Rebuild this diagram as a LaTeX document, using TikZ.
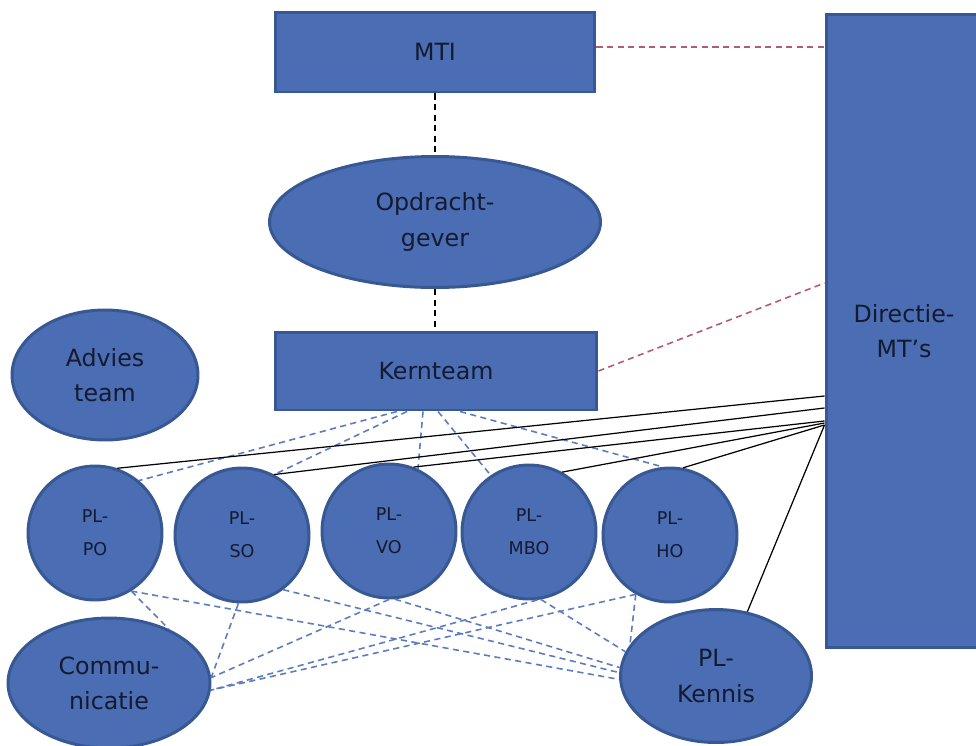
\documentclass[tikz,border=0pt]{standalone}
\usepackage{fontspec}
\setmainfont{DejaVu Sans}
\usetikzlibrary{shapes.geometric}
\definecolor{vlak}{HTML}{4A6DB3}
\definecolor{rand}{HTML}{385894}
\definecolor{tekst}{HTML}{141A30}
\definecolor{stip}{HTML}{5B7DBE}
\definecolor{rood}{HTML}{B25A78}
\tikzset{
  blok/.style={draw=rand, fill=vlak, line width=1.7pt, text=tekst, inner sep=0pt,
    align=center, font=\fontsize{13.5}{20}\selectfont},
  box/.style={blok, rectangle},
  oval/.style={blok, ellipse},
  pl/.style={blok, ellipse, minimum width=2.68cm, minimum height=2.68cm,
    font=\fontsize{10}{19}\selectfont},
  lijn/.style={black, line width=0.7pt},
  stippel/.style={black, line width=0.9pt, dash pattern=on 3.5pt off 2.5pt},
  link/.style={stip, line width=0.9pt, dash pattern=on 3.5pt off 2.5pt},
  mtlink/.style={rood, line width=0.9pt, dash pattern=on 3.5pt off 2.5pt}
}
\begin{document}
\begin{tikzpicture}[x=0.02cm, y=-0.02cm]
    \clip (0,0) rectangle (976,745);
    \fill[white] (0,0) rectangle (976,745);

    % Bovenste lagen
    \node[box, minimum width=6.4cm, minimum height=1.6cm] (mti) at (435,52) {MTI};
    \node[oval, minimum width=6.62cm, minimum height=2.62cm] (opd) at (435,222) {Opdracht-\\gever};
    \node[box, minimum width=6.44cm, minimum height=1.56cm] (kern) at (436,371) {Kernteam};
    \node[oval, minimum width=3.72cm, minimum height=2.6cm] (advies) at (105,375) {Advies\\team};

    % Directie
    \node[box, minimum width=3.12cm, minimum height=12.68cm] (dir) at (904,331) {Directie-\\MT's};

    % Projectleiders
    \node[pl] (po)  at (95,533)  {PL-\\PO};
    \node[pl] (so)  at (242,535) {PL-\\SO};
    \node[pl] (vo)  at (389,531) {PL-\\VO};
    \node[pl] (mbo) at (529,532) {PL-\\MBO};
    \node[pl] (ho)  at (670,535) {PL-\\HO};

    % Onderste laag
    \node[oval, minimum width=4.04cm, minimum height=2.6cm] (comm) at (109,683) {Commu-\\nicatie};
    \node[oval, minimum width=3.82cm, minimum height=2.66cm] (kennis) at (716,676) {PL-\\Kennis};

    % Lijnen naar boven
    \draw[stippel] (mti.south) -- (opd.north);
    \draw[stippel] (opd.south) -- (opd.south |- kern.north);
    \draw[mtlink] ([yshift=0.1cm]mti.east) -- ([yshift=0.1cm]mti.east -| dir.west);
    \draw[mtlink] (kern.east) -- ([yshift=0.96cm]dir.west);

    % Kernteam naar projectleiders
    \draw[link] ([xshift=-0.78cm]kern.south) -- (po.50);
    \draw[link] ([xshift=-0.58cm]kern.south) -- (so.62);
    \draw[link] ([xshift=-0.26cm]kern.south) -- (vo.65);
    \draw[link] ([xshift=0.04cm]kern.south) -- (mbo.124);
    \draw[link] ([xshift=0.48cm]kern.south) -- (ho.96);

    % Directie naar projectleiders
    \draw[lijn] (po.71) -- ([yshift=-1.30cm]dir.west);
    \draw[lijn] (so.62) -- ([yshift=-1.54cm]dir.west);
    \draw[lijn] (vo.69) -- ([yshift=-1.80cm]dir.west);
    \draw[lijn] (mbo.61) -- ([yshift=-1.84cm]dir.west);
    \draw[lijn] (ho.79) -- ([yshift=-1.88cm]dir.west);
    \draw[lijn] (kennis.64) -- ([yshift=-1.88cm]dir.west);

    % Communicatie en kennis
    \draw[link] (po.302) -- (comm.42);
    \draw[link] (so.267) -- (comm.3);
    \draw[link] (vo.270) -- (comm.3);
    \draw[link] (mbo.277) -- (comm.356);
    \draw[link] (ho.240) -- (comm.356);
    \draw[link] (po.302) -- (kennis.182);
    \draw[link] (so.307) -- (kennis.178);
    \draw[link] (vo.275) -- (kennis.175);
    \draw[link] (mbo.280) -- (kennis.165);
    \draw[link] (ho.240) -- (kennis.160);
\end{tikzpicture}
\end{document}
